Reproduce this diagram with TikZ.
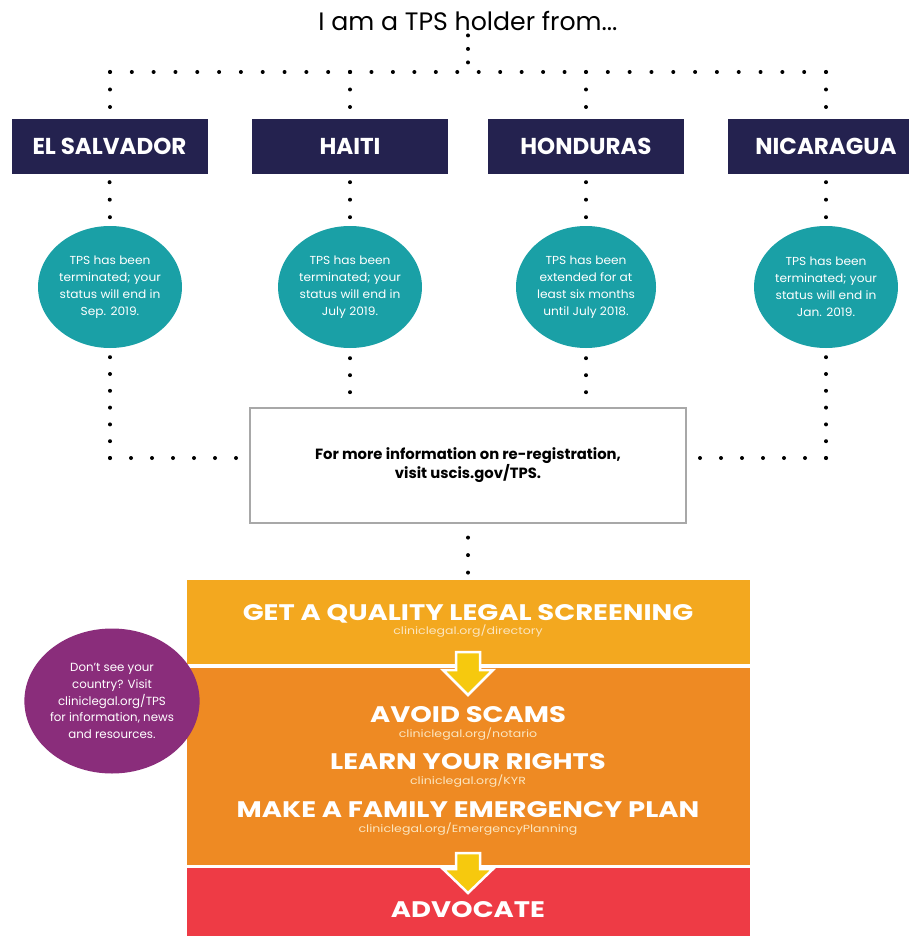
\documentclass[tikz,border=0pt]{standalone}
\usepackage{fontspec}
\setmainfont{Poppins}
\newfontfamily\widefont[FakeStretch=1.22]{Poppins}
\newfontfamily\semiwide[FakeStretch=1.05]{Poppins}
\usetikzlibrary{shapes.geometric}
\definecolor{navy}{HTML}{24224F}
\definecolor{tealc}{HTML}{1AA0A6}
\definecolor{lorange}{HTML}{F3A81F}
\definecolor{morange}{HTML}{EE8A23}
\definecolor{redc}{HTML}{EE3B45}
\definecolor{purplec}{HTML}{8A2D7B}
\definecolor{yellowc}{HTML}{F6C90E}
\definecolor{urlc}{HTML}{FBE6C0}
\definecolor{greyc}{HTML}{A8A8A8}
\begin{document}
\begin{tikzpicture}[x=1pt,y=-1pt,
  country/.style={fill=navy, minimum width=196pt, minimum height=55pt, inner sep=0pt, text=white, font=\bfseries\fontsize{23}{23}\selectfont},
  status/.style={ellipse, fill=tealc, minimum width=140pt, minimum height=122pt, inner sep=0pt, text=white, align=center, font=\semiwide\fontsize{11.6}{17}\selectfont},
  stepbox/.style={minimum width=563pt, inner sep=0pt, draw=none},
  head/.style={text=white, inner sep=0pt, anchor=base, font=\widefont\bfseries\fontsize{22.5}{22.5}\selectfont},
  url/.style={text=urlc, inner sep=0pt, anchor=base, font=\widefont\fontsize{10.3}{10.3}\selectfont},
  dots/.style={line width=4pt, line cap=round, dash pattern=on 0pt off #1},
  yarrow/.style={fill=yellowc, draw=white, line width=2.5pt, line join=miter}
]
\useasboundingbox (0,0) rectangle (909,936);
\clip (0,0) rectangle (909,936);
\fill[white] (0,0) rectangle (909,936);

% title
\node[inner sep=0pt, anchor=base, font=\fontsize{25.2}{25.2}\selectfont] (title) at (468,31) {I am a TPS holder from...};
\coordinate (top) at (468,72);
\coordinate (tl) at (110,72);
\coordinate (m1) at (350,72);
\coordinate (m2) at (586,72);
\coordinate (tr) at (826,72);

% countries
\node[country] (sv) at (109.5,146.5) {EL SALVADOR};
\node[country] (ha) at (350,146.5) {HAITI};
\node[country] (ho) at (586,146.5) {HONDURAS};
\node[country] (ni) at (826,146.5) {NICARAGUA};

% status circles
\node[status] (s1) at (110,287) {TPS has been\\terminated; your\\status will end in\\Sep. 2019.};
\node[status] (s2) at (350,287) {TPS has been\\terminated; your\\status will end in\\July 2019.};
\node[status] (s3) at (586,287) {TPS has been\\extended for at\\least six months\\until July 2018.};
\node[status] (s4) at (826,287) {TPS has been\\terminated; your\\status will end in\\Jan. 2019.};

% info box
\node[draw=greyc, line width=1.2pt, minimum width=436pt, minimum height=115pt, inner sep=0pt, align=center, font=\bfseries\fontsize{14.8}{19}\selectfont] (info) at (468,465.5) {For more information on re-registration,\\visit uscis.gov/TPS.};
\coordinate (bl) at (110,458);
\coordinate (br) at (826,458);

% dotted connectors
\draw[dots=13.5pt, shorten <=4pt] (top |- title.south) -- (top);
\draw[dots=21.818pt] (tl) -- (m1);
\draw[dots=21.455pt] (m1) -- (m2);
\draw[dots=21.818pt] (m2) -- (tr);
\draw[dots=17.5pt] (tl) -- (tl |- sv.north);
\draw[dots=17.5pt] (m1) -- (m1 |- ha.north);
\draw[dots=17.5pt] (m2) -- (m2 |- ho.north);
\draw[dots=17.5pt] (tr) -- (tr |- ni.north);
\draw[dots=17.5pt, shorten <=8pt] (sv.south) -- (s1.north);
\draw[dots=17.5pt, shorten <=8pt] (ha.south) -- (s2.north);
\draw[dots=17.5pt, shorten <=8pt] (ho.south) -- (s3.north);
\draw[dots=17.5pt, shorten <=8pt] (ni.south) -- (s4.north);
\draw[dots=16.8pt] (bl) -- (s1.south);
\draw[dots=16.8pt] (br) -- (s4.south);
\draw[dots=21pt, shorten >=12pt] (bl) -- (bl -| info.west);
\draw[dots=21pt, shorten >=12pt] (br) -- (br -| info.east);
\draw[dots=17pt, shorten <=10pt] (s2.south) -- (s2.south |- info.north);
\draw[dots=17pt, shorten <=10pt] (s3.south) -- (s3.south |- info.north);

% steps
\node[stepbox, fill=lorange, minimum height=84pt] (step1) at (468.5,622) {};
\node[stepbox, fill=morange, minimum height=197pt] (step2) at (468.5,766.5) {};
\node[stepbox, fill=redc, minimum height=82pt] (step3) at (468.5,909) {};
\draw[dots=17.5pt, shorten <=14pt] (info.south) -- (info.south |- step1.north);

\node[head] (h1) at (468,620) {GET A QUALITY LEGAL SCREENING};
\node[url] (u1) at (468,634) {cliniclegal.org/directory};
\node[head] (h2) at (468,722) {AVOID SCAMS};
\node[url] (u2) at (468,737) {cliniclegal.org/notario};
\node[head] (h3) at (468,769) {LEARN YOUR RIGHTS};
\node[url] (u3) at (468,784) {cliniclegal.org/KYR};
\node[head] (h4) at (468,817) {MAKE A FAMILY EMERGENCY PLAN};
\node[url] (u4) at (468,832) {cliniclegal.org/EmergencyPlanning};
\node[head] (h5) at (468,917) {ADVOCATE};

% yellow arrows
\draw[yarrow] (456,652) -- (480,652) -- (480,670) -- (493,670) -- (468,695) -- (443,670) -- (456,670) -- cycle;
\draw[yarrow] (456,853) -- (480,853) -- (480,869) -- (493,869) -- (468,893) -- (443,869) -- (456,869) -- cycle;

% purple circle
\node[ellipse, fill=purplec, minimum width=162pt, minimum height=145pt, inner sep=0pt, text=white, align=center, font=\fontsize{11.8}{16.7}\selectfont] (other) at (112,701) {Don’t see your\\country? Visit\\cliniclegal.org/TPS\\for information, news\\and resources.};
\end{tikzpicture}
\end{document}
